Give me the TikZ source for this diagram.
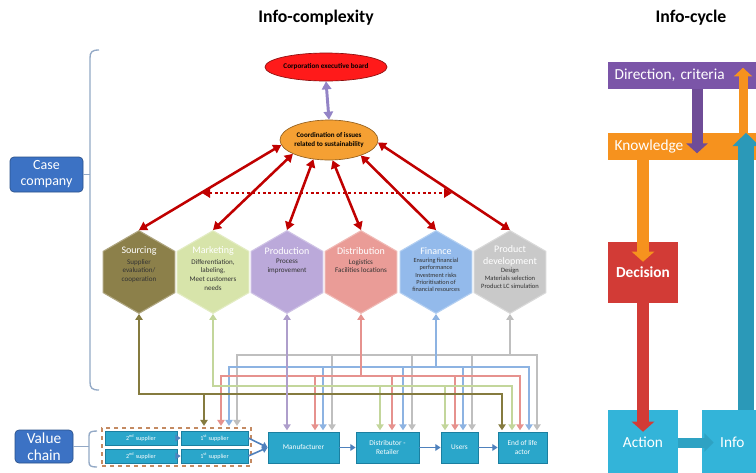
\documentclass[tikz,border=0pt]{standalone}
\usepackage{fontspec}
\setmainfont{Carlito}
\usetikzlibrary{arrows.meta,shapes.geometric,fit,calc}

% palette
\definecolor{arrRed}{HTML}{C00000}
\definecolor{ceoRed}{HTML}{FF1A1A}
\definecolor{coordOr}{HTML}{F5A033}
\definecolor{linkPurple}{HTML}{9384C6}
\definecolor{hexS}{HTML}{8C804A}
\definecolor{hexM}{HTML}{D7E4AA}
\definecolor{hexP}{HTML}{BBA9DA}
\definecolor{hexD}{HTML}{EA9C97}
\definecolor{hexF}{HTML}{93BAEB}
\definecolor{hexG}{HTML}{C9C9C9}
\definecolor{wS}{HTML}{857B3F}
\definecolor{wM}{HTML}{C3D69B}
\definecolor{wP}{HTML}{AE9ECB}
\definecolor{wD}{HTML}{E6928E}
\definecolor{wF}{HTML}{8DB3E2}
\definecolor{wG}{HTML}{BFBFBF}
\definecolor{chainFill}{HTML}{2AA6CA}
\definecolor{chainEdge}{HTML}{1B7FA0}
\definecolor{chainArrow}{HTML}{4F81BD}
\definecolor{labelBlue}{HTML}{3C72C4}
\definecolor{bracketCol}{HTML}{93A9C6}
\definecolor{groupDash}{HTML}{C48A62}
\definecolor{dirc}{HTML}{7B55A8}
\definecolor{knowc}{HTML}{F6921E}
\definecolor{decc}{HTML}{D23B36}
\definecolor{actc}{HTML}{33B4D9}

\begin{document}
\begin{tikzpicture}[x=0.75pt,y=-0.75pt,
  ttl/.style={font=\fontsize{13.3}{15}\selectfont\bfseries},
  hexa/.style={regular polygon, regular polygon sides=6, shape border rotate=30,
    minimum size=62pt, inner sep=0pt, fill=#1, draw=#1!70!white, line width=0.8pt},
  hextitle/.style={text=white, font=\fontsize{7.5}{8.5}\selectfont, align=center, inner sep=0pt},
  hexbody/.style={text=black!80, font=\fontsize{5.3}{6.6}\selectfont, align=center, inner sep=0pt},
  redarr/.style={draw=arrRed, line width=1.9pt, >={Triangle[width=7pt,length=6pt]}},
  wire/.style={line width=2pt, >={Triangle[width=5.5pt,length=4.5pt]}},
  bus/.style={line width=2pt, line cap=rect},
  chainbox/.style={rectangle, fill=chainFill, draw=chainEdge, line width=0.6pt,
    text=white, font=\fontsize{5.5}{6.5}\selectfont, align=center, inner sep=1pt,
    minimum height=23.25pt},
  supbox/.style={rectangle, fill=chainFill, draw=chainEdge, line width=0.5pt,
    text=white, font=\fontsize{4.6}{5}\selectfont, inner sep=0pt,
    minimum height=10.5pt},
  chainarr/.style={draw=chainArrow, line width=1.2pt, -{Triangle[width=5pt,length=4pt]}},
  sidelabel/.style={rectangle, rounded corners=3pt, fill=labelBlue, draw=labelBlue!70!black,
    line width=0.5pt, text=white, align=center, inner sep=1pt},
  bracket/.style={draw=bracketCol, line width=1pt},
  cyclebar/.style={rectangle, text=white, font=\fontsize{11.5}{13}\selectfont,
    inner sep=0pt, minimum height=20.25pt},
  cyclebox/.style={rectangle, text=white, font=\fontsize{11.5}{13}\selectfont,
    inner sep=0pt},
]
\useasboundingbox[fill=white] (0,0) rectangle (756,472);

% ---------- titles
\node[ttl] (t1) at (316,18) {Info-complexity};
\node[ttl] (t2) at (691,18) {Info-cycle};

% ---------- board and coordination
\node[ellipse, fill=ceoRed, draw=ceoRed!55!black, line width=0.5pt,
  minimum width=91.5pt, minimum height=21pt, inner sep=0pt] (ceb) at (326,67) {};
\node[font=\fontsize{5.4}{6}\selectfont\bfseries, inner sep=0pt] (cebt) at (ceb.center) {Corporation executive board};
\node[ellipse, fill=coordOr, draw=coordOr!60!black, line width=0.5pt,
  minimum width=73.5pt, minimum height=30pt, inner sep=0pt] (coord) at (329,140) {};
\node[font=\fontsize{5.3}{6.6}\selectfont\bfseries, align=center, inner sep=0pt] (coordt)
  at (coord.center) {Coordination of issues\\related to sustainability};

\draw[draw=linkPurple, line width=2.2pt, >={Triangle[width=7pt,length=6pt]}, <->]
  (ceb.south) -- (coord.north);

% ---------- function hexagons
\node[hexa=hexS] (hs) at (139,272) {};
\node[hexa=hexM] (hm) at (213,272) {};
\node[hexa=hexP] (hp) at (287,272) {};
\node[hexa=hexD] (hd) at (361,272) {};
\node[hexa=hexF] (hf) at (436,272) {};
\node[hexa=hexG] (hg) at (510,272) {};

\node[hextitle] (hst) at (139,251) {Sourcing};
\node[hexbody, anchor=north] (hsb) at (139,259) {Supplier\\evaluation/\\cooperation};
\node[hextitle] (hmt) at (213,251) {Marketing};
\node[hexbody, anchor=north] (hmb) at (213,259) {Differentiation,\\labeling,\\Meet customers\\needs};
\node[hextitle] (hpt) at (287,251) {Production};
\node[hexbody, anchor=north] (hpb) at (287,259) {Process\\improvement};
\node[hextitle] (hdt) at (361,251) {Distribution};
\node[hexbody, anchor=north] (hdb) at (361,259) {Logistics\\Facilities locations};
\node[hextitle] (hft) at (436,251) {Finance};
\node[hexbody, anchor=north, font=\fontsize{4.7}{5.4}\selectfont] (hfb) at (436,258) {Ensuring financial\\performance\\Investment risks\\Prioritisation of\\financial resources};
\node[hextitle, font=\fontsize{7.5}{8.8}\selectfont] (hgt) at (510,256) {Product\\development};
\node[hexbody, anchor=north, font=\fontsize{4.9}{5.8}\selectfont] (hgb) at (510,268) {Design\\Materials selection\\Product LC simulation};

% ---------- coordination links
\draw[redarr, <->] (coord.186) -- (hs.90);
\draw[redarr, <->] (coord.201) -- (hm.90);
\draw[redarr, <->] (coord.231) -- (hp.90);
\draw[redarr, <->] (coord.280) -- (hd.90);
\draw[redarr, <->] (coord.334) -- (hf.90);
\draw[redarr, <->] (coord.357) -- (hg.90);
\coordinate (dl) at (202,193);
\coordinate (dr) at (452,193);
\draw[redarr, line width=1.6pt, dash pattern=on 2.2pt off 1.8pt, <->] (dl) -- (dr);

% ---------- value chain
\node[supbox, minimum width=54pt] (s2a) at (141,438) {2\textsuperscript{nd} supplier};
\node[supbox, minimum width=50.25pt] (s1a) at (214.5,438) {1\textsuperscript{st} supplier};
\node[supbox, minimum width=54pt] (s2b) at (141,456) {2\textsuperscript{nd} supplier};
\node[supbox, minimum width=50.25pt] (s1b) at (214.5,456) {1\textsuperscript{st} supplier};
\node[draw=groupDash, dashed, line width=1.2pt, inner sep=2pt, fit=(s2a)(s1b)] (grp) {};

\node[chainbox, minimum width=53.25pt] (man) at (303.5,447.5) {Manufacturer};
\node[chainbox, minimum width=47.25pt] (dist) at (387.5,447.5) {Distributor -\\Retailer};
\node[chainbox, minimum width=27.75pt] (users) at (459.5,447.5) {Users};
\node[chainbox, minimum width=36.75pt] (eol) at (522.5,447.5) {End of life\\actor};

\draw[chainarr] (s2a.east) -- (s1a.west);
\draw[chainarr] (s2b.east) -- (s1b.west);
\draw[chainarr] (s1a.east) -- (man.west);
\draw[chainarr] (s1b.east) -- (man.west);
\draw[chainarr] (man.east) -- (dist.west);
\draw[chainarr] (dist.east) -- (users.west);
\draw[chainarr] (users.east) -- (eol.west);

% ---------- information wiring between functions and chain actors
% product development (grey)
\draw[wire, wG, <-] (hg.270) -- (hg.270 |- 0,355);
\draw[bus, wG] (237,355) -- (537,355);
\foreach \x/\t in {237/grp,332/man,412/dist,472/users,537/eol}
  \draw[wire, wG, ->, shorten >=1pt] (\x,355) -- (\x,0 |- \t.north);
% finance (blue)
\draw[wire, wF, <-] (hf.270) -- (hf.270 |- 0,367);
\draw[bus, wF] (229,367) -- (529,367);
\foreach \x/\t in {229/grp,323/man,403/dist,463/users,529/eol}
  \draw[wire, wF, ->, shorten >=1pt] (\x,367) -- (\x,0 |- \t.north);
% distribution (salmon)
\draw[wire, wD, <-] (hd.270) -- (hd.270 |- 0,376);
\draw[bus, wD] (221,376) -- (520,376);
\foreach \x/\t in {221/grp,315/man,392/dist,455/users,520/eol}
  \draw[wire, wD, ->, shorten >=1pt] (\x,376) -- (\x,0 |- \t.north);
% marketing (green)
\draw[wire, wM, <-] (hm.270) -- (hm.270 |- 0,386);
\draw[bus, wM] (213,386) -- (512,386);
\foreach \x/\t in {380/dist,445/users,512/eol}
  \draw[wire, wM, ->, shorten >=1pt] (\x,386) -- (\x,0 |- \t.north);
% sourcing (olive)
\draw[wire, wS, <-] (hs.270) -- (hs.270 |- 0,394);
\draw[bus, wS] (139,394) -- (502,394);
\foreach \x/\t in {204/grp,502/eol}
  \draw[wire, wS, ->, shorten >=1pt] (\x,394) -- (\x,0 |- \t.north);
% production (purple)
\draw[wire, wP, <->, shorten >=1pt] (hp.270) -- (hp.270 |- man.north);

% ---------- side labels and brackets
\node[sidelabel, minimum width=54.75pt, minimum height=26.25pt,
  font=\fontsize{10.5}{12}\selectfont] (cc) at (46.5,174.5) {Case\\company};
\node[sidelabel, minimum width=43.5pt, minimum height=24.75pt,
  font=\fontsize{11.5}{13}\selectfont] (vc) at (44,446.5) {Value\\chain};

\coordinate (cbt) at (99,50);
\coordinate (cbb) at (99,390);
\draw[bracket] (cbt) .. controls (92,50) and (90,52) .. (90,58) -- (90,382)
  .. controls (90,388) and (92,390) .. (cbb);
\draw[bracket] (cc.east) -- (90,0 |- cc.east);
\coordinate (vbt) at (97,431);
\coordinate (vbb) at (97,467);
\draw[bracket] (vbt) .. controls (91,431) and (89,432) .. (89,436) -- (89,462)
  .. controls (89,466) and (91,467) .. (vbb);
\draw[bracket] (vc.east) -- (89,0 |- vc.east);

% ---------- info cycle
\node[cyclebar, fill=dirc, minimum width=114pt, text width=104pt, align=left] (dir) at (684,75.5) {Direction, criteria};
\node[cyclebar, fill=knowc, minimum width=114pt, text width=104pt, align=left] (know) at (684,146.5) {Knowledge};
\node[cyclebox, fill=decc, minimum width=52.5pt, minimum height=45.75pt, font=\fontsize{11.5}{13}\selectfont\bfseries] (dec) at (643,272.5) {Decision};
\node[cyclebox, fill=actc, minimum width=52.5pt, minimum height=48.75pt] (act) at (643,442.5) {Action};
\node[cyclebox, fill=actc, minimum width=43.5pt, minimum height=48.75pt] (info) at (731,442.5) {\hspace*{2pt}Info};

\draw[draw=dirc!90!black, line width=8.25pt, -{Triangle[width=16pt,length=7.5pt]}]
  (697,0 |- dir.south) -- ($(697,0 |- know.south)+(0,-7)$);
\draw[draw=knowc, line width=6.75pt, -{Triangle[width=13.5pt,length=6.5pt]}]
  (743,0 |- know.north) -- ($(743,0 |- dir.north)+(0,6)$);
\draw[draw=knowc, line width=9pt, -{Triangle[width=16.5pt,length=7.5pt]}]
  (dec.center |- know.south) -- ($(dec.north)+(0,20)$);
\draw[draw=decc, line width=9pt, -{Triangle[width=16.5pt,length=7.5pt]}]
  (dec.south) -- ($(act.north)+(0,22)$);
\draw[draw=actc!90!black, line width=7.5pt, -{Triangle[width=13.5pt,length=7pt]}]
  (act.east) -- ($(info.west)+(12,0)$);
\draw[draw=actc!85!black, line width=12pt, -{Triangle[width=19.5pt,length=10pt]}]
  (746,0 |- info.north) -- (746,0 |- know.north);
\end{tikzpicture}
\end{document}
